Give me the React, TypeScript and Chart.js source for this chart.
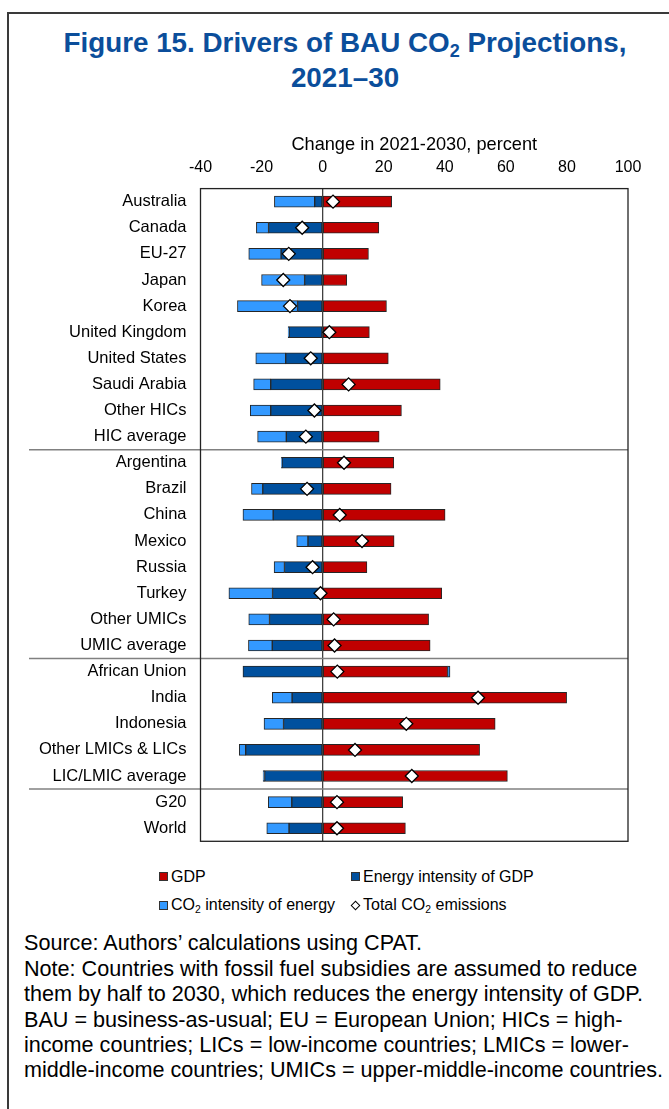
import React, { useEffect, useRef } from "react";
import { Chart, registerables } from "chart.js";

Chart.register(...registerables);

const categories = [
  "Australia", "Canada", "EU-27", "Japan", "Korea", "United Kingdom", "United States",
  "Saudi Arabia", "Other HICs", "HIC average",
  "Argentina", "Brazil", "China", "Mexico", "Russia", "Turkey", "Other UMICs", "UMIC average",
  "African Union", "India", "Indonesia", "Other LMICs & LICs", "LIC/LMIC average",
  "G20", "World",
];
const gdp = [22.6, 18.4, 15.0, 7.9, 20.9, 15.3, 21.5, 38.5, 25.8, 18.5, 23.3, 22.4, 40.1, 23.4, 14.5, 39.0, 34.7, 35.2, 40.9, 79.9, 56.5, 51.4, 60.5, 26.2, 27.1];
const energyIntensity = [-2.6, -17.7, -13.6, -5.9, -8.2, -11.0, -12.1, -17.0, -17.0, -11.9, -13.3, -19.6, -16.2, -4.8, -12.5, -16.4, -17.4, -16.5, -26.1, -10.0, -12.8, -25.2, -19.0, -10.1, -11.0];
const co2Intensity = [-13.2, -4.0, -10.6, -14.1, -19.7, -0.3, -9.8, -5.6, -6.7, -9.4, -0.2, -3.7, -9.9, -3.7, -3.4, -14.3, -6.8, -7.8, 0.8, -6.5, -6.4, -2.1, -0.5, -7.7, -7.3];
const totalCO2 = [3.4, -6.7, -11.1, -12.9, -10.7, 2.2, -3.9, 8.5, -2.7, -5.5, 7.0, -5.1, 5.6, 12.9, -3.3, -0.7, 3.6, 3.9, 4.8, 50.9, 27.4, 10.6, 29.2, 4.7, 4.7];
const xTicks = [-40, -20, 0, 20, 40, 60, 80, 100];
const groupBreaksAfter = [9, 17, 22];

const FONT = "'Liberation Sans', Arial, Helvetica, sans-serif";
const RED = "#C00000";
const DARK_BLUE = "#00509E";
const LIGHT_BLUE = "#3399FF";

const framePlugin = {
  id: "frameAndBreaks",
  afterDatasetsDraw(chart: any) {
    const { ctx, chartArea: a, scales } = chart;
    const y = scales.y;
    ctx.save();
    ctx.strokeStyle = "#808080";
    ctx.lineWidth = 1.5;
    groupBreaksAfter.forEach((i) => {
      const yy = (y.getPixelForValue(i) + y.getPixelForValue(i + 1)) / 2;
      ctx.beginPath();
      ctx.moveTo(29, yy);
      ctx.lineTo(a.right, yy);
      ctx.stroke();
    });
    ctx.strokeStyle = "#222";
    ctx.lineWidth = 1.3;
    ctx.strokeRect(a.left, a.top, a.right - a.left, a.bottom - a.top);
    ctx.restore();
  },
};

function DriversChart() {
  const ref = useRef<HTMLCanvasElement>(null);
  useEffect(() => {
    if (!ref.current) return;
    const barCommon = {
      type: "bar" as const,
      barThickness: 11,
      borderWidth: 1,
      borderColor: "#262626",
      borderSkipped: false,
      order: 1,
    };
    const chart = new Chart(ref.current, {
      type: "bar",
      data: {
        labels: categories,
        datasets: [
          { ...barCommon, label: "GDP", data: gdp, backgroundColor: RED },
          { ...barCommon, label: "Energy intensity of GDP", data: energyIntensity, backgroundColor: DARK_BLUE },
          { ...barCommon, label: "CO2 intensity of energy", data: co2Intensity, backgroundColor: LIGHT_BLUE },
          {
            type: "line" as const,
            label: "Total CO2 emissions",
            data: totalCO2,
            indexAxis: "y",
            stack: "total",
            showLine: false,
            pointStyle: "rectRot",
            pointRadius: 6.5,
            pointBackgroundColor: "#ffffff",
            pointBorderColor: "#000000",
            pointBorderWidth: 1.3,
            order: 0,
          } as any,
        ],
      },
      options: {
        indexAxis: "y",
        responsive: false,
        maintainAspectRatio: false,
        animation: false,
        layout: { padding: { left: 0, top: 0, right: 41, bottom: 8.7 } },
        plugins: {
          legend: { display: false },
          tooltip: { enabled: false },
        },
        scales: {
          x: {
            type: "linear",
            position: "top",
            min: -40,
            max: 100,
            stacked: true,
            afterBuildTicks: (s: any) => {
              s.ticks = xTicks.map((v) => ({ value: v }));
            },
            afterFit: (s: any) => {
              s.height = 68.6;
              s.paddingLeft = 0;
              s.paddingRight = 0;
            },
            ticks: {
              color: "#000",
              font: { family: FONT, size: 16 },
              padding: 11,
            },
            grid: {
              drawTicks: false,
              color: (c: any) => (c.tick && c.tick.value === 0 ? "#404040" : "rgba(0,0,0,0)"),
              lineWidth: 1.3,
            },
            border: { display: false },
            title: {
              display: true,
              text: "Change in 2021-2030, percent",
              color: "#000",
              font: { family: FONT, size: 18.2 },
              padding: { top: 14.1, bottom: 0 },
            },
          },
          y: {
            type: "category",
            stacked: true,
            afterFit: (s: any) => {
              s.width = 200.5;
              s.paddingTop = 0;
              s.paddingBottom = 0;
            },
            ticks: {
              color: "#000",
              font: { family: FONT, size: 16.5 },
              padding: 14,
              autoSkip: false,
            },
            grid: { display: false, drawTicks: false },
            border: { display: false },
          },
        },
      } as any,
      plugins: [framePlugin],
    });
    return () => chart.destroy();
  }, []);
  return (
    <canvas
      ref={ref}
      width={669}
      height={730}
      style={{ position: "absolute", left: 0, top: 120, width: 669, height: 730 }}
    />
  );
}

const legendText: React.CSSProperties = {
  position: "absolute",
  fontFamily: FONT,
  fontSize: 16,
  lineHeight: "20px",
  color: "#000",
  whiteSpace: "nowrap",
};

function box(left: number, cy: number, color: string): React.CSSProperties {
  return {
    position: "absolute",
    left,
    top: cy - 4.5,
    width: 9,
    height: 9,
    background: color,
    border: "1px solid #333",
    boxSizing: "border-box",
  };
}

const noteLines = [
  "Source: Authors\u2019 calculations using CPAT.",
  "Note: Countries with fossil fuel subsidies are assumed to reduce",
  "them by half to 2030, which reduces the energy intensity of GDP.",
  "BAU = business-as-usual; EU = European Union; HICs = high-",
  "income countries; LICs = low-income countries; LMICs = lower-",
  "middle-income countries; UMICs = upper-middle-income countries.",
];

export default function App() {
  const subStyle: React.CSSProperties = { fontSize: "0.65em", verticalAlign: "-0.25em", lineHeight: 0 };
  return (
    <div
      style={{
        position: "absolute",
        left: 0,
        top: 0,
        width: 669,
        height: 1109,
        overflow: "hidden",
        background: "#fff",
      }}
    >
      <div
        style={{
          position: "absolute",
          left: 7,
          top: 12,
          width: 720,
          height: 1200,
          border: "2px solid #3a3a3a",
          boxSizing: "border-box",
        }}
      />
      <div
        style={{
          position: "absolute",
          left: 0,
          top: 24.5,
          width: 690,
          textAlign: "center",
          fontFamily: FONT,
          fontWeight: "bold",
          fontSize: 27.8,
          lineHeight: "35px",
          color: "#0B4E9B",
        }}
      >
        Figure 15. Drivers of BAU CO<sub style={subStyle}>2</sub> Projections,
        <br />
        2021–30
      </div>
      <DriversChart />
      <div style={box(159, 876.5, RED)} />
      <div style={{ ...legendText, left: 171, top: 866.5 }}>GDP</div>
      <div style={box(351, 876.5, DARK_BLUE)} />
      <div style={{ ...legendText, left: 363, top: 866.5 }}>Energy intensity of GDP</div>
      <div style={box(159, 905, LIGHT_BLUE)} />
      <div style={{ ...legendText, left: 171, top: 895 }}>
        CO<sub style={subStyle}>2</sub> intensity of energy
      </div>
      <div
        style={{
          position: "absolute",
          left: 352,
          top: 901.5,
          width: 7,
          height: 7,
          background: "#fff",
          border: "1px solid #000",
          boxSizing: "border-box",
          transform: "rotate(45deg)",
        }}
      />
      <div style={{ ...legendText, left: 363, top: 895 }}>
        Total CO<sub style={subStyle}>2</sub> emissions
      </div>
      <div
        style={{
          position: "absolute",
          left: 24,
          top: 930.3,
          fontFamily: FONT,
          fontSize: 21.6,
          lineHeight: "25.4px",
          color: "#000",
          whiteSpace: "nowrap",
        }}
      >
        {noteLines.map((l, i) => (
          <div key={i}>{l}</div>
        ))}
      </div>
    </div>
  );
}
